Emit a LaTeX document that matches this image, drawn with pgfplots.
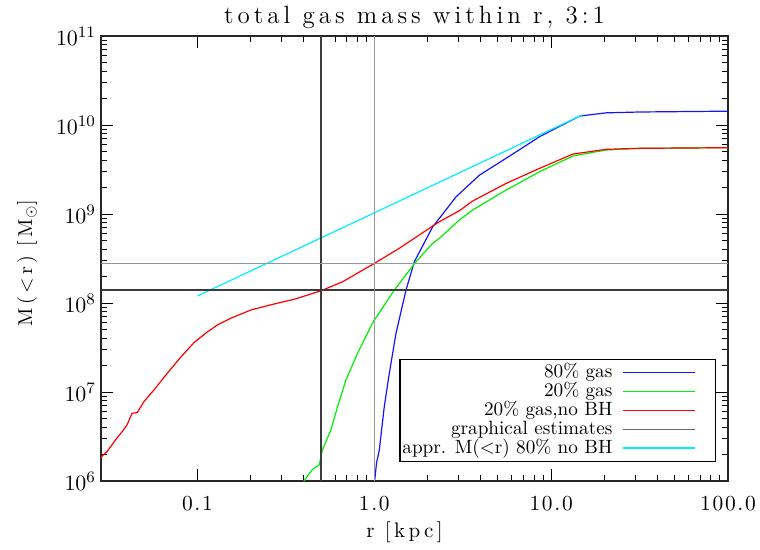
\documentclass[border=0pt]{standalone}
\usepackage{fontspec}
\setmainfont{lmroman10-regular.otf}[BoldFont=lmroman10-bold.otf, ItalicFont=lmroman10-italic.otf]
\newfontfamily\titlefont{lmroman12-regular.otf}[LetterSpace=16]
\newfontfamily\labelfont{lmroman10-regular.otf}[LetterSpace=16]
\newfontfamily\tickfont{lmroman10-regular.otf}[LetterSpace=8]
\usepackage{pgfplots}
\pgfplotsset{compat=1.18}
\definecolor{cblue}{RGB}{20,20,255}
\definecolor{cgreen}{RGB}{0,240,0}
\definecolor{cred}{RGB}{255,0,0}
\definecolor{ccyan}{RGB}{0,240,255}
\definecolor{gdark}{RGB}{60,60,60}
\definecolor{glight}{RGB}{150,150,150}
\definecolor{gleg}{RGB}{110,110,110}
\newcommand{\lt}[1]{\makebox[104pt][r]{#1}}

\pgfplotstableread{
x y
1.005 1.0e6
1.03 1.6e6
1.067 2.2e6
1.139 6.84e6
1.216 1.62e7
1.327 4.57e7
1.512 1.40e8
1.685 2.91e8
2.14 7.20e8
2.335 8.95e8
2.90 1.56e9
3.94 2.74e9
5.57 4.23e9
8.61 7.40e9
10.7 9.25e9
14.5 1.26e10
20.5 1.37e10
31.7 1.40e10
100 1.43e10
}\blue

\pgfplotstableread{
x y
0.40 1.0e6
0.447 1.35e6
0.488 1.51e6
0.509 2.23e6
0.568 3.74e6
0.620 6.84e6
0.691 1.36e7
0.804 2.72e7
0.987 6.16e7
1.298 1.40e8
1.723 2.91e8
2.14 4.69e8
2.335 5.33e8
3.03 8.57e8
3.60 1.11e9
5.57 1.86e9
8.61 2.99e9
13.29 4.49e9
20.5 5.24e9
31.7 5.47e9
100 5.56e9
}\green

\pgfplotstableread{
x y
0.0280 1.80e6
0.0308 2.13e6
0.0344 2.89e6
0.0375 3.58e6
0.0400 4.26e6
0.0427 5.77e6
0.0456 5.85e6
0.0498 7.78e6
0.0567 1.05e7
0.0675 1.62e7
0.0803 2.45e7
0.0955 3.58e7
0.1113 4.57e7
0.1295 5.66e7
0.1542 6.73e7
0.2001 8.34e7
0.2713 9.75e7
0.352 1.10e8
0.499 1.37e8
0.661 1.73e8
0.987 2.74e8
1.386 4.12e8
2.14 7.33e8
2.335 8.19e8
3.03 1.09e9
3.60 1.40e9
5.57 2.21e9
8.61 3.26e9
13.29 4.72e9
20.5 5.33e9
31.7 5.47e9
100 5.56e9
}\red

\pgfplotstableread{
x y
0.1 1.2e8
1.0 1.03e9
15.0 1.3e10
}\cyan

\begin{document}
\begin{tikzpicture}
\begin{axis}[
  scale only axis,
  width=313.5pt, height=222.5pt,
  xmode=log, ymode=log,
  xmin=0.0285, xmax=100, ymin=1e6, ymax=1e11,
  xtick={0.1,1,10,100}, xticklabels={0.1,1.0,10.0,100.0},
  ytick={1e6,1e7,1e8,1e9,1e10,1e11},
  tick align=inside,
  major tick length=6pt, minor tick length=3pt,
  every tick/.style={black, line width=0.5pt},
  axis line style={line width=0.6pt, black!85},
  yticklabel style={font=\fontsize{11}{13}\selectfont, xshift=1pt},
  xticklabel style={font=\tickfont\fontsize{10.7}{13}\selectfont, yshift=-4pt},
  title={total gas mass within r, 3:1},
  title style={font=\titlefont\fontsize{12.5}{15}\selectfont, at={(axis description cs:0.5,1)}, anchor=base, yshift=0pt},
  xlabel={r [kpc]},
  xlabel style={font=\labelfont\fontsize{10.5}{13}\selectfont, at={(axis description cs:0.5,0)}, anchor=base, yshift=-28pt, xshift=-5pt},
  ylabel={M(\textless r) [M$_\odot$]},
  ylabel style={font=\labelfont\fontsize{10}{12}\selectfont, at={(axis description cs:-0.118,0.49)}, anchor=center},
  legend plot pos=right,
  legend cell align=left,
  legend image code/.code={\draw[#1] (0pt,0pt) -- (36pt,0pt); \path[draw=none] (36pt,0pt) -- (44pt,0pt);},
  legend style={at={(axis description cs:1,0)}, anchor=south east, xshift=-6pt, yshift=9.5pt,
    font=\fontsize{9.6}{11}\selectfont, draw=black, line width=0.6pt,
    inner xsep=2pt, inner ysep=2pt, row sep=0pt, column sep=5pt,
    nodes={inner sep=0.2pt, text height=7pt, text depth=2pt}},
]
\addplot[cblue, line width=0.6pt] table {\blue};
\addlegendentry{\lt{80\% gas}}
\addplot[cgreen, line width=0.6pt] table {\green};
\addlegendentry{\lt{20\% gas}}
\addplot[cred, line width=0.6pt] table {\red};
\addlegendentry{\lt{20\% gas,no BH}}
\addlegendimage{gleg, line width=0.6pt}
\addlegendentry{\lt{graphical estimates}}
\addplot[ccyan, line width=0.6pt] table {\cyan};
\addlegendentry{\lt{appr. M(\textless r) 80\% no BH}}
\addplot[gdark, line width=0.6pt, forget plot] coordinates {(0.0285,1.4e8) (100,1.4e8)};
\addplot[gdark, line width=0.6pt, forget plot] coordinates {(0.5,1e6) (0.5,1e11)};
\addplot[glight, line width=0.6pt, forget plot] coordinates {(1.0,1e6) (1.0,1e11)};
\addplot[glight, line width=0.6pt, forget plot] coordinates {(0.0285,2.8e8) (100,2.8e8)};
\end{axis}
\pgfresetboundingbox
\path[use as bounding box] (current axis.south west) ++(-50.5pt,-34pt) rectangle ([xshift=16pt,yshift=18pt]current axis.north east);
\end{tikzpicture}
\end{document}
